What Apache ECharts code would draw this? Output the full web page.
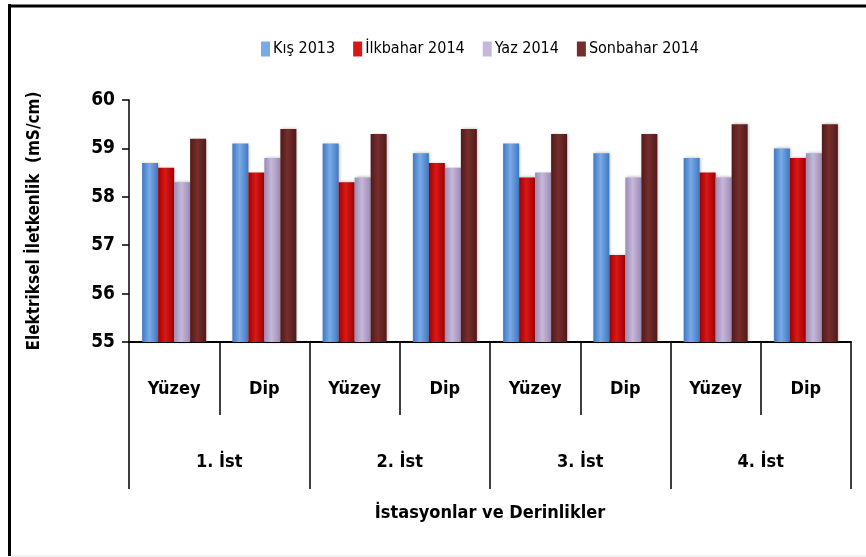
<!DOCTYPE html>
<html>
<head>
<meta charset="utf-8">
<script src="https://cdn.jsdelivr.net/npm/echarts@6/dist/echarts.min.js"></script>
<style>
  html, body { margin: 0; padding: 0; background: #fff; }
  #chart { width: 866px; height: 557px; }
</style>
</head>
<body>
<div id="chart"></div>
<script>
// derinlik ve istasyon kategorileri
var depths = ['Yüzey', 'Dip', 'Yüzey', 'Dip', 'Yüzey', 'Dip', 'Yüzey', 'Dip'];
var stations = ['1. İst', '2. İst', '3. İst', '4. İst'];
var seriesNames = ['Kış 2013', 'İlkbahar 2014', 'Yaz 2014', 'Sonbahar 2014'];

var kis2013 = [58.7, 59.1, 59.1, 58.9, 59.1, 58.9, 58.8, 59.0];
var ilkbahar2014 = [58.6, 58.5, 58.3, 58.7, 58.4, 56.8, 58.5, 58.8];
var yaz2014 = [58.3, 58.8, 58.4, 58.6, 58.5, 58.4, 58.4, 58.9];
var sonbahar2014 = [59.2, 59.4, 59.3, 59.4, 59.3, 59.3, 59.5, 59.5];

var yTicks = [55, 56, 57, 58, 59, 60];

var font = '"DejaVu Sans Condensed", "Noto Sans", sans-serif';
var colors = [
    ['#3f78c2', '#7aaae6', '#3f78c2'],
    ['#a00000', '#d81818', '#a00000'],
    ['#9c8ab4', '#c6b8da', '#9c8ab4'],
    ['#501a19', '#762e2c', '#501a19']
];

function grad(c) {
    return new echarts.graphic.LinearGradient(0, 0, 1, 0, [
        {offset: 0, color: c[0]},
        {offset: 0.45, color: c[1]},
        {offset: 1, color: c[2]}
    ]);
}

var chart = echarts.init(document.getElementById('chart'));

var dataList = [kis2013, ilkbahar2014, yaz2014, sonbahar2014];
var series = seriesNames.map(function (name, i) {
    return {
        name: name,
        type: 'bar',
        xAxisIndex: 0,
        barWidth: 16,
        barGap: '0%',
        itemStyle: {
            color: grad(colors[i]),
            shadowColor: 'rgba(0,0,0,0.3)',
            shadowBlur: 3,
            shadowOffsetX: 1
        },
        data: dataList[i]
    };
});

chart.setOption({
    animation: false,
    textStyle: {fontFamily: font},
    legend: {
        top: 36,
        left: 256,
        itemWidth: 9,
        itemHeight: 15,
        itemGap: 18,
        icon: 'rect',
        textStyle: {fontFamily: font, fontSize: 16, color: '#000', padding: [0, 0, 0, -2]},
        data: seriesNames.map(function (n, i) {
            return {name: n, itemStyle: {color: colors[i][1]}};
        })
    },
    grid: {left: 129, right: 15, top: 100, bottom: 215},
    xAxis: [
        {
            type: 'category',
            data: depths,
            axisLine: {show: true, lineStyle: {color: '#000', width: 2}},
            axisTick: {show: true, length: 73, interval: 0, lineStyle: {color: '#000', width: 1.5}},
            axisLabel: {margin: 38, color: '#000', fontWeight: 'bold', fontSize: 18, fontFamily: font}
        },
        {
            type: 'category',
            position: 'bottom',
            data: stations,
            axisLine: {show: false},
            axisTick: {show: true, length: 147, interval: 0, lineStyle: {color: '#000', width: 1.5}},
            axisLabel: {margin: 111, color: '#000', fontWeight: 'bold', fontSize: 18, fontFamily: font},
            name: 'İstasyonlar ve Derinlikler',
            nameLocation: 'middle',
            nameGap: 162,
            nameTextStyle: {color: '#000', fontWeight: 'bold', fontSize: 18, fontFamily: font}
        }
    ],
    yAxis: {
        type: 'value',
        min: yTicks[0],
        max: yTicks[yTicks.length - 1],
        interval: 1,
        splitLine: {show: false},
        axisLine: {show: true, lineStyle: {color: '#000', width: 1.5}},
        axisTick: {show: true, length: 7, lineStyle: {color: '#000', width: 1.5}},
        axisLabel: {margin: 14, color: '#000', fontWeight: 'bold', fontSize: 19, fontFamily: font},
        name: 'Elektriksel İletkenlik  (mS/cm)',
        nameLocation: 'middle',
        nameGap: 86,
        nameTextStyle: {color: '#000', fontWeight: 'bold', fontSize: 17, fontFamily: font}
    },
    graphic: [
        {type: 'line', shape: {x1: 9.5, y1: 4, x2: 9.5, y2: 556}, style: {stroke: '#000', lineWidth: 3}},
        {type: 'line', shape: {x1: 8, y1: 6, x2: 866, y2: 6}, style: {stroke: '#000', lineWidth: 3}},
        {type: 'line', shape: {x1: 11, y1: 556, x2: 866, y2: 556}, style: {stroke: '#e4e4e4', lineWidth: 1}}
    ],
    series: series
});
</script>
</body>
</html>
